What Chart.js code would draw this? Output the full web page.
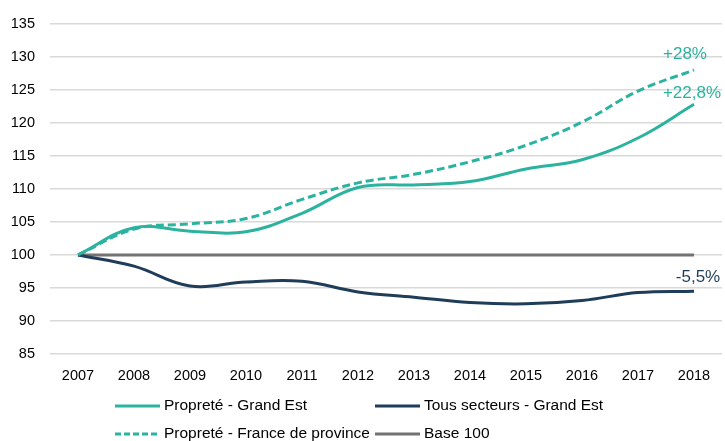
<!DOCTYPE html>
<html>
<head>
<meta charset="utf-8">
<script src="https://cdn.jsdelivr.net/npm/chart.js@4.4.1/dist/chart.umd.min.js"></script>
<style>
html,body{margin:0;padding:0;background:#fff;}
canvas{display:block;}
</style>
</head>
<body>
<canvas id="c" width="725" height="441"></canvas>
<script>
const years = ["2007","2008","2009","2010","2011","2012","2013","2014","2015","2016","2017","2018"];
const propreteGrandEst = [100, 104.1, 103.6, 103.5, 106.3, 110.2, 110.6, 111.1, 113.0, 114.4, 117.7, 122.8];
const propreteFranceProvince = [100, 103.9, 104.7, 105.5, 108.4, 110.9, 112.2, 114.1, 116.6, 120.1, 124.8, 128.0];
const tousSecteursGrandEst = [100, 98.3, 95.3, 95.9, 96.0, 94.4, 93.6, 92.8, 92.6, 93.1, 94.3, 94.5];
const base100 = [100, 100, 100, 100, 100, 100, 100, 100, 100, 100, 100, 100];
const seriesNames = ["Propreté - Grand Est", "Tous secteurs - Grand Est", "Propreté - France de province", "Base 100"];
const endLabels = ["+22,8%", "-5,5%", "+28%"];

const TEAL = "#2bb3a0";
const NAVY = "#1f3d58";
const GRAY = "#737373";
const FONT = "'Liberation Sans', Arial, sans-serif";

const endLabelPlugin = {
  id: "endLabels",
  afterDatasetsDraw(chart) {
    const ctx = chart.ctx;
    const specs = [
      {ds: 0, text: endLabels[0], color: TEAL, dx: -2, dy: -6},
      {ds: 1, text: endLabels[1], color: NAVY, dx: 4, dy: -9},
      {ds: 2, text: endLabels[2], color: TEAL, dx: -9, dy: -11}
    ];
    ctx.save();
    ctx.font = "17px " + FONT;
    ctx.textAlign = "center";
    ctx.textBaseline = "alphabetic";
    specs.forEach(s => {
      const meta = chart.getDatasetMeta(s.ds);
      const pt = meta.data[meta.data.length - 1];
      ctx.fillStyle = s.color;
      ctx.fillText(s.text, pt.x + s.dx, pt.y + s.dy);
    });
    ctx.restore();
  }
};

const legendPlugin = {
  id: "gridLegend",
  afterDraw(chart) {
    const ctx = chart.ctx;
    const items = [
      {ds: 0, x: 115, y: 406},
      {ds: 1, x: 375, y: 406},
      {ds: 2, x: 115, y: 434},
      {ds: 3, x: 375, y: 434}
    ];
    ctx.save();
    ctx.font = "15.5px " + FONT;
    ctx.textBaseline = "middle";
    ctx.textAlign = "left";
    items.forEach(it => {
      const d = chart.data.datasets[it.ds];
      ctx.strokeStyle = d.borderColor;
      ctx.lineWidth = 3;
      ctx.setLineDash(d.borderDash && d.borderDash.length ? [6, 3] : []);
      ctx.beginPath();
      ctx.moveTo(it.x, it.y);
      ctx.lineTo(it.x + 45, it.y);
      ctx.stroke();
      ctx.setLineDash([]);
      ctx.fillStyle = "#000";
      ctx.fillText(d.label, it.x + 49, it.y);
    });
    ctx.restore();
  }
};

new Chart(document.getElementById("c"), {
  type: "line",
  data: {
    labels: years,
    datasets: [
      {label: seriesNames[0], data: propreteGrandEst, borderColor: TEAL, borderWidth: 3, tension: 0.4, pointRadius: 0, fill: false},
      {label: seriesNames[1], data: tousSecteursGrandEst, borderColor: NAVY, borderWidth: 3, tension: 0.4, pointRadius: 0, fill: false},
      {label: seriesNames[2], data: propreteFranceProvince, borderColor: TEAL, borderWidth: 3, borderDash: [8, 4], tension: 0.4, pointRadius: 0, fill: false},
      {label: seriesNames[3], data: base100, borderColor: GRAY, borderWidth: 3, tension: 0, pointRadius: 0, fill: false}
    ]
  },
  options: {
    responsive: false,
    animation: false,
    devicePixelRatio: 1,
    layout: {padding: {top: 23, right: 3, bottom: 0, left: 0}},
    plugins: {
      legend: {display: false},
      tooltip: {enabled: false}
    },
    scales: {
      x: {
        offset: true,
        grid: {display: false, drawTicks: false},
        border: {display: false},
        ticks: {color: "#000", font: {family: FONT, size: 14.5}, padding: 13, maxRotation: 0, autoSkip: false},
        afterFit(scale) { scale.height = 87; }
      },
      y: {
        min: 85,
        max: 135,
        grid: {color: "#d9d9d9", lineWidth: 1.5, drawTicks: false},
        border: {display: false},
        ticks: {stepSize: 5, color: "#000", font: {family: FONT, size: 14.5}, padding: 15},
        afterFit(scale) { scale.width = 50; }
      }
    }
  },
  plugins: [endLabelPlugin, legendPlugin]
});
</script>
</body>
</html>
